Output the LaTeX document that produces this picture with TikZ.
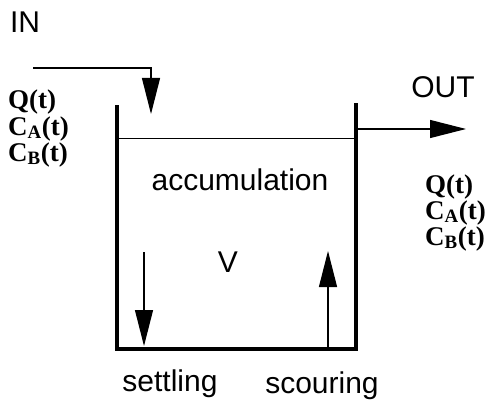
\documentclass[tikz,border=0pt]{standalone}
\usepackage{fontspec}
\setmainfont{Liberation Serif}
\setsansfont{Liberation Sans}
\usetikzlibrary{arrows.meta}
\begin{document}
\begin{tikzpicture}[x=1pt,y=-1pt]
    \tikzset{
        txt/.style={font=\sffamily\fontsize{30}{30}\selectfont, inner sep=0pt, anchor=base},
        conc/.style={font=\bfseries\fontsize{27}{27}\selectfont, inner sep=0pt, anchor=base west, text height=18pt, text depth=4pt},
        wall/.style={line width=3.2pt},
        flow/.style={line width=1.2pt, -{Triangle[length=36pt,width=18pt]}}
    }
    \useasboundingbox (0,0) rectangle (497,401);

    % tank
    \coordinate (tl) at (117,105);
    \coordinate (bl) at (117,349);
    \coordinate (br) at (356,349);
    \coordinate (tr) at (356,103);
    \coordinate (wl) at (117,138);
    \coordinate (wr) at (356,138);
    \draw[wall] (tl) -- (bl) -- (br) -- (tr);
    \draw[line width=1pt] (wl) -- (wr);

    % flows
    \coordinate (in0) at (33,68);
    \coordinate (in1) at (151,68);
    \coordinate (in2) at (151,114);
    \coordinate (out0) at (356,129);
    \coordinate (out1) at (466,129);
    \coordinate (set0) at (144,252);
    \coordinate (set1) at (144,346);
    \coordinate (sco0) at (328,349);
    \coordinate (sco1) at (328,251);
    \draw[flow] (in0) -- (in1) -- (in2);
    \foreach \x/\y in {%
        out0/out1,set0/set1,sco0/sco1%
    }{
    \draw[flow] (\x) -- (\y);
    }

    % labels
    \draw node[txt] (in) at (25,33) {IN};
    \draw node[txt] (out) at (443,98) {OUT};
    \draw node[txt] (acc) at (240,190) {accumulation};
    \draw node[txt] (vol) at (228,272) {V};
    \draw node[txt] (settle) at (170,391) {settling};
    \draw node[txt] (scour) at (322,393) {scouring};
    \draw node[conc] (qin) at (8,109) {Q(t)};
    \draw node[conc] (cain) at (8,135) {C\textsubscript{A}(t)};
    \draw node[conc] (cbin) at (8,161) {C\textsubscript{B}(t)};
    \draw node[conc] (qout) at (425,193) {Q(t)};
    \draw node[conc] (caout) at (425,219) {C\textsubscript{A}(t)};
    \draw node[conc] (cbout) at (425,245) {C\textsubscript{B}(t)};
\end{tikzpicture}
\end{document}
